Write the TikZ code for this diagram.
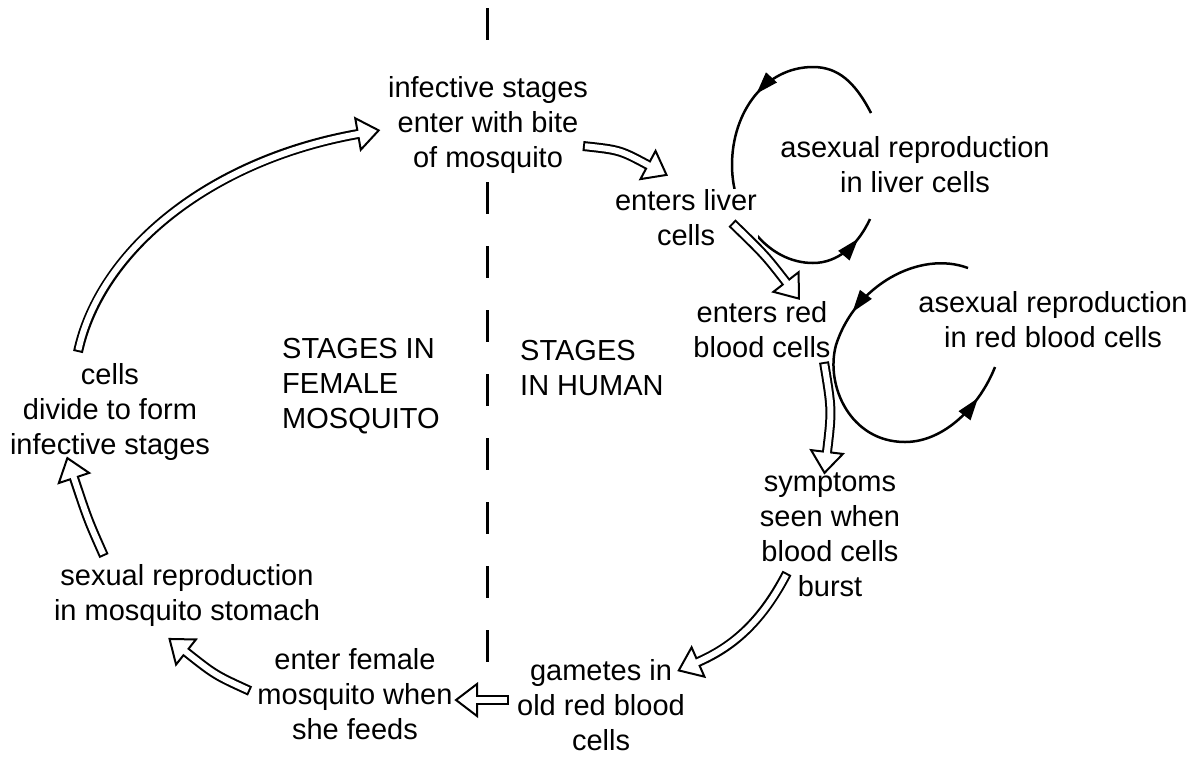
\documentclass[tikz,border=0pt]{standalone}
\usepackage{fontspec}
\setmainfont{Liberation Sans}
\usetikzlibrary{calc,decorations.markings}
% #1 path, #2 last control point, #3 end point (base of head)
\newcommand\hollowarrow[3]{%
  \draw[line width=10pt] #1;
  \draw[line width=2pt, fill=white, line join=miter]
    ($(#3)!16pt!90:(#2)$) -- ($(#3)!-21pt!(#2)$) -- ($(#3)!16pt!-90:(#2)$) -- cycle;
  \draw[line width=6pt, white, shorten <=2pt, shorten >=-2pt] #1;
}
\newcommand\cychead{\fill (3,0) -- (-19,7.5) -- (-19,-7.5) -- cycle;}
\begin{document}
\begin{tikzpicture}[x=1pt,y=-1pt,
  txt/.style={align=center, fill=white, inner sep=1pt, font=\fontsize{29}{35}\selectfont},
  ltxt/.style={txt, align=left},
  cyc/.style={line width=2.5pt, postaction={decorate}},
  divider/.style={line width=3pt}]
\useasboundingbox (0,0) rectangle (1198,756);
% cycle arcs
\draw[cyc, decoration={markings,
   mark=at position 0.32 with {\cychead},
   mark=at position 0.94 with {\cychead}}]
  (871,113) .. controls (855,82) and (838,67) .. (813,67)
  .. controls (765,67) and (732,112) .. (732,165)
  .. controls (732,218) and (768,263) .. (813,263)
  .. controls (838,263) and (858,245) .. (870,219);
\draw[cyc, decoration={markings,
   mark=at position 0.30 with {\cychead},
   mark=at position 0.91 with {\cychead}}]
  (968,268) .. controls (920,250) and (855,285) .. (836,345)
  .. controls (825,385) and (850,442) .. (905,442)
  .. controls (945,442) and (980,405) .. (995,367);
% divider
\draw[divider] (487.5,8) -- (487.5,40);
\draw[divider, dash pattern=on 32pt off 32pt] (487.5,182) -- (487.5,662);
% texts
\node[txt] (bite) at (488,124.5) {infective stages\\enter with bite\\of mosquito};
\node[txt] (liver) at (686,218) {enters liver\\cells};
\node[txt] (aliver) at (915,165) {asexual reproduction\\in liver cells};
\node[txt] (red) at (762,330) {enters red\\blood cells};
\node[txt] (ared) at (1053,320) {asexual reproduction\\in red blood cells};
\node[ltxt, anchor=west] (human) at (519,368) {STAGES\\IN HUMAN};
\node[ltxt, anchor=west] (female) at (281,386) {STAGES IN\\FEMALE\\MOSQUITO};
\node[txt] (divide) at (110,411.5) {cells\\divide to form\\infective stages};
\node[txt] (symptoms) at (830,535) {symptoms\\seen when\\blood cells\\burst};
\node[txt] (gametes) at (601,705.5) {gametes in\\old red blood\\cells};
\node[txt] (feeds) at (355,694.5) {enter female\\mosquito when\\she feeds};
\node[txt] (sexual) at (187,595) {sexual reproduction\\in mosquito stomach};
% arrow end points
\coordinate (a1s) at (78,352);   \coordinate (a1e) at (358,134);
\coordinate (a2s) at (583,146);  \coordinate (a2e) at (648,165);
\coordinate (a3s) at (732,223);  \coordinate (a3e) at (786,282);
\coordinate (a4s) at (824,362);  \coordinate (a4e) at (827,452);
\coordinate (a5s) at (787,573);  \coordinate (a5e) at (698,662);
\coordinate (a6s) at (509,700);  \coordinate (a6e) at (477,700);
\coordinate (a7s) at (250,691);  \coordinate (a7e) at (186,652);
\coordinate (a8s) at (104,556);  \coordinate (a8e) at (74,478);
\hollowarrow{(a1s) .. controls (100,250) and (210,160) .. (a1e)}{210,160}{a1e}
\hollowarrow{(a2s) .. controls (620,150) .. (a2e)}{620,150}{a2e}
\hollowarrow{(a3s) .. controls (765,255) .. (a3e)}{765,255}{a3e}
\hollowarrow{(a4s) .. controls (832,410) .. (a4e)}{832,410}{a4e}
\hollowarrow{(a5s) .. controls (760,625) and (730,648) .. (a5e)}{730,648}{a5e}
\hollowarrow{(a6s) -- (a6e)}{a6s}{a6e}
\hollowarrow{(a7s) .. controls (215,675) .. (a7e)}{215,675}{a7e}
\hollowarrow{(a8s) .. controls (88,520) .. (a8e)}{88,520}{a8e}
\end{tikzpicture}
\end{document}
